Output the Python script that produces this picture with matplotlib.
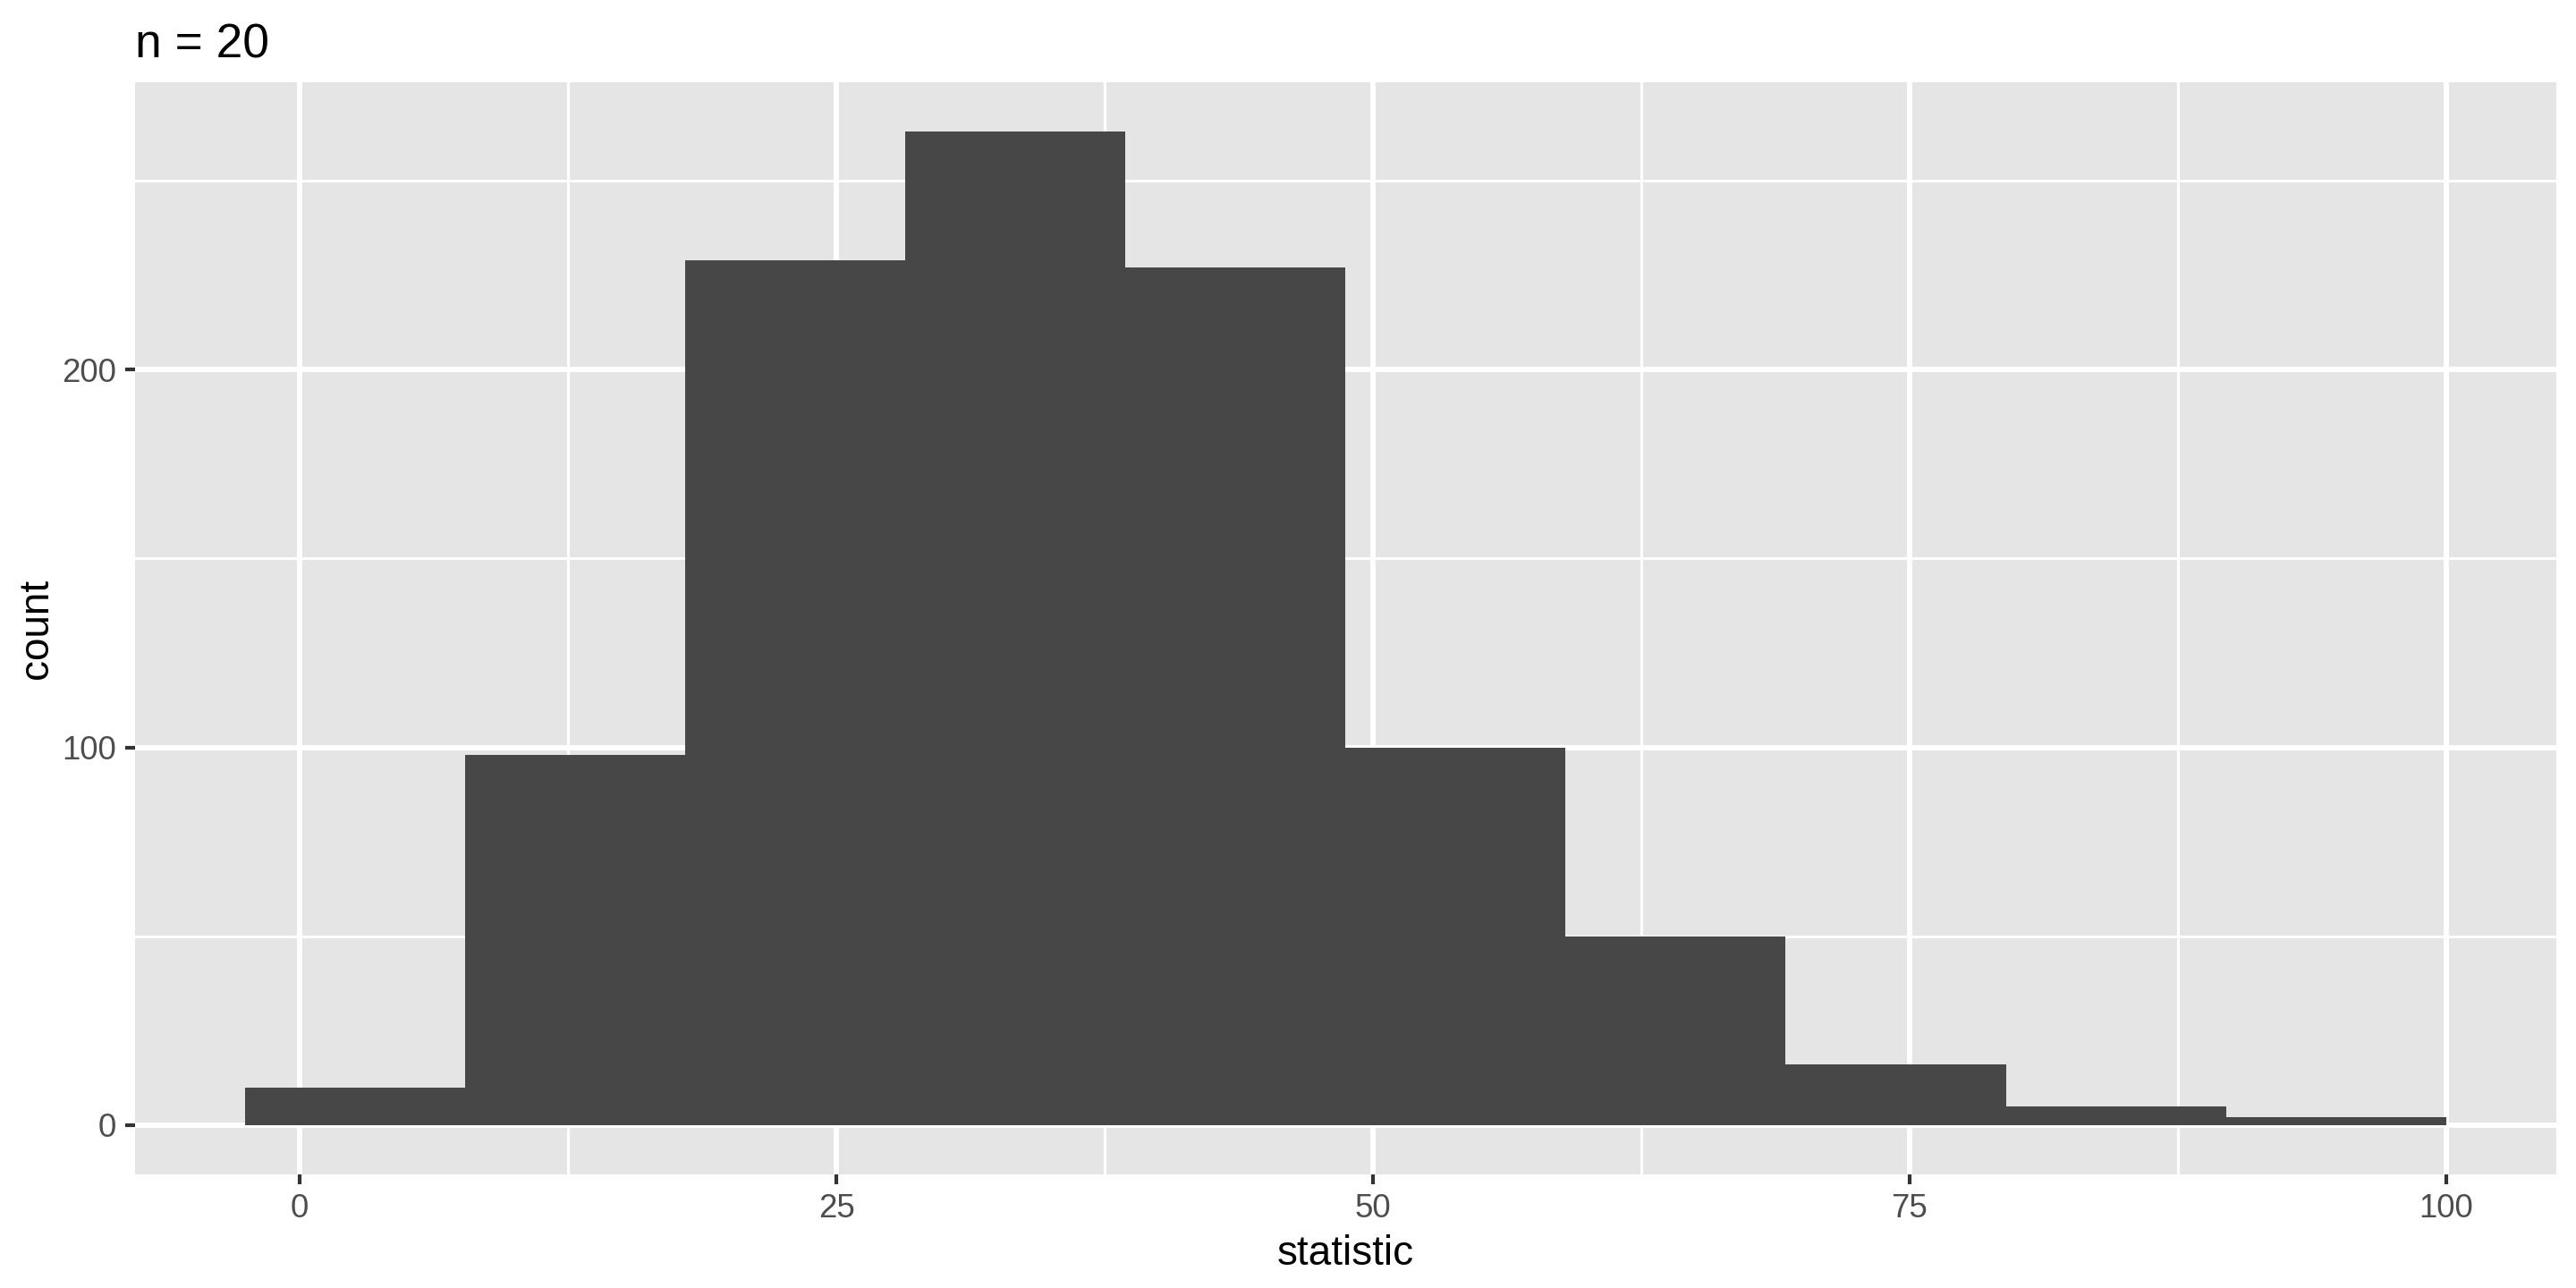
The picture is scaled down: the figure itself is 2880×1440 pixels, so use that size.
import matplotlib
matplotlib.use("Agg")
import matplotlib.pyplot as plt
from matplotlib.ticker import FixedLocator

plt.rcParams['font.family'] = ['Liberation Sans', 'DejaVu Sans']

# data
bin_edges = [-2.56, 7.69, 17.95, 28.21, 38.46, 48.72, 58.97, 69.23, 79.49, 89.74, 100.0]
counts = [10, 98, 229, 263, 227, 100, 50, 16, 5, 2]
x_ticks = [0, 25, 50, 75, 100]
x_minor = [12.5, 37.5, 62.5, 87.5]
y_ticks = [0, 100, 200]
y_minor = [50, 150, 250]
title = "n = 20"
xlabel = "statistic"
ylabel = "count"

fig = plt.figure(figsize=(9.6, 4.8), dpi=300)
ax = fig.add_axes([0.0523, 0.0880, 0.9400, 0.8482])
ax.set_facecolor('#E5E5E5')
for s in ax.spines.values():
    s.set_visible(False)

lefts = bin_edges[:-1]
widths = [b - a for a, b in zip(bin_edges[:-1], bin_edges[1:])]
ax.bar(lefts, counts, width=widths, align='edge', color='#474747', linewidth=0, zorder=3)

span = bin_edges[-1] - bin_edges[0]
ax.set_xlim(bin_edges[0] - 0.05 * span, bin_edges[-1] + 0.05 * span)
ymax = max(counts)
ax.set_ylim(-0.05 * ymax, ymax * 1.05)

ax.xaxis.set_major_locator(FixedLocator(x_ticks))
ax.xaxis.set_minor_locator(FixedLocator(x_minor))
ax.yaxis.set_major_locator(FixedLocator(y_ticks))
ax.yaxis.set_minor_locator(FixedLocator(y_minor))
ax.grid(which='major', color='white', linewidth=1.42, zorder=1)
ax.grid(which='minor', color='white', linewidth=0.71, zorder=1)
ax.set_axisbelow(True)

ax.tick_params(which='major', length=2.75, width=1.0, color='#333333',
               labelsize=8.8, labelcolor='#4D4D4D', pad=2.2)
ax.tick_params(which='minor', length=0)

ax.set_xlabel(xlabel, fontsize=11, color='black', labelpad=2.75)
ax.set_ylabel(ylabel, fontsize=11, color='black', labelpad=1.5)
ax.set_title(title, fontsize=12.8, color='black', loc='left', pad=6.6)

fig.savefig("out.png", dpi=300)
